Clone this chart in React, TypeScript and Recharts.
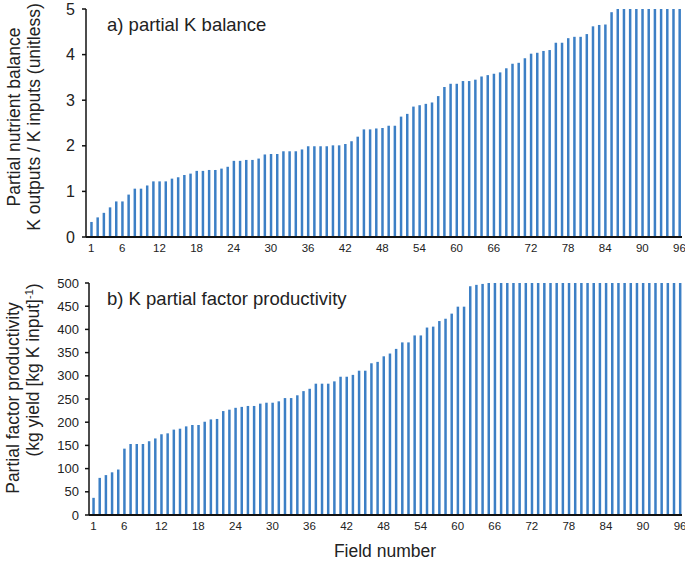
import { BarChart, Bar, XAxis, YAxis } from 'recharts'

// partial K balance (K outputs / K inputs), fields sorted ascending
const kBalance = [
  0.33, 0.43, 0.53, 0.65, 0.78, 0.78, 0.93, 1.06, 1.06, 1.13, 1.22, 1.22,
  1.22, 1.28, 1.31, 1.36, 1.39, 1.45, 1.45, 1.47, 1.47, 1.5, 1.54, 1.67,
  1.67, 1.69, 1.69, 1.72, 1.81, 1.82, 1.82, 1.88, 1.88, 1.88, 1.92, 1.99,
  1.99, 1.99, 1.99, 2.01, 2.01, 2.04, 2.1, 2.2, 2.36, 2.36, 2.38, 2.39,
  2.44, 2.44, 2.64, 2.7, 2.86, 2.89, 2.92, 2.95, 3.09, 3.29, 3.36, 3.36,
  3.42, 3.42, 3.45, 3.52, 3.55, 3.58, 3.61, 3.7, 3.8, 3.82, 3.92, 4.02,
  4.04, 4.08, 4.1, 4.26, 4.26, 4.36, 4.39, 4.39, 4.45, 4.62, 4.65, 4.66,
  4.93, 5, 5, 5, 5, 5, 5, 5, 5, 5, 5, 5,
]

// K partial factor productivity (kg yield / kg K input)
const kPfp = [
  37, 80, 86, 92, 98, 143, 153, 153, 153, 159, 165, 174,
  176, 184, 186, 191, 194, 194, 201, 206, 207, 224, 227, 231,
  233, 235, 235, 240, 242, 242, 245, 252, 252, 258, 267, 272,
  283, 283, 283, 288, 298, 298, 302, 311, 311, 327, 330, 342,
  348, 358, 372, 372, 387, 387, 404, 406, 418, 423, 434, 449,
  449, 493, 496, 498, 500, 500, 500, 500, 500, 500, 500, 500,
  500, 500, 500, 500, 500, 500, 500, 500, 500, 500, 500, 500,
  500, 500, 500, 500, 500, 500, 500, 500, 500, 500, 500, 500,
]

const xTicks = [1, 6, 12, 18, 24, 30, 36, 42, 48, 54, 60, 66, 72, 78, 84, 90, 96]
const balanceTicks = [0, 1, 2, 3, 4, 5]
const pfpTicks = [0, 50, 100, 150, 200, 250, 300, 350, 400, 450, 500]

const FONT = '"Liberation Sans", Arial, sans-serif'
const BAR = '#3c7fc5'

const balanceRows = kBalance.map((v, i) => ({ field: i + 1, value: v }))
const pfpRows = kPfp.map((v, i) => ({ field: i + 1, value: v }))

export default function App() {
  return (
    <div
      style={{
        position: 'absolute',
        left: 0,
        top: 0,
        width: 685,
        height: 564,
        background: '#fff',
        fontFamily: FONT,
      }}
    >
      {/* panel a */}
      <div style={{ position: 'absolute', left: 0, top: 0 }}>
        <BarChart width={685} height={260} data={balanceRows} margin={{ top: 9, right: 3, left: 0, bottom: 0 }}>
          <XAxis
            dataKey="field"
            type="number"
            domain={[0.14, 96.4]}
            ticks={xTicks}
            interval={0}
            height={23}
            tickLine={false}
            tickSize={0}
            tickMargin={7}
            axisLine={{ stroke: '#111', strokeWidth: 2 }}
            tick={{ fontSize: 11.5, fill: '#222', fontFamily: FONT }}
          />
          <YAxis
            domain={[0, 5]}
            ticks={balanceTicks}
            interval={0}
            width={86}
            tickSize={4}
            tickMargin={7}
            axisLine={{ stroke: '#111', strokeWidth: 1.5 }}
            tickLine={{ stroke: '#111', strokeWidth: 1.5 }}
            tick={{ fontSize: 16, fill: '#222', fontFamily: FONT }}
          />
          <Bar dataKey="value" fill={BAR} barSize={2.5} isAnimationActive={false} />
        </BarChart>
      </div>

      {/* panel b */}
      <div style={{ position: 'absolute', left: 0, top: 270 }}>
        <BarChart width={685} height={270} data={pfpRows} margin={{ top: 13, right: 3, left: 0, bottom: 0 }}>
          <XAxis
            dataKey="field"
            type="number"
            domain={[0.29, 96.32]}
            ticks={xTicks}
            interval={0}
            height={25}
            tickLine={false}
            tickSize={0}
            tickMargin={7}
            axisLine={{ stroke: '#111', strokeWidth: 2 }}
            tick={{ fontSize: 11.5, fill: '#222', fontFamily: FONT }}
          />
          <YAxis
            domain={[0, 500]}
            ticks={pfpTicks}
            interval={0}
            width={89}
            tickSize={4}
            tickMargin={6}
            axisLine={{ stroke: '#111', strokeWidth: 1.5 }}
            tickLine={{ stroke: '#111', strokeWidth: 1.5 }}
            tick={{ fontSize: 13, fill: '#222', fontFamily: FONT }}
          />
          <Bar dataKey="value" fill={BAR} barSize={2.5} isAnimationActive={false} />
        </BarChart>
      </div>

      {/* titles and axis labels */}
      <svg
        width={685}
        height={564}
        style={{ position: 'absolute', left: 0, top: 0, pointerEvents: 'none' }}
        fontFamily={FONT}
        fill="#222"
      >
        <text x={107} y={31} fontSize={18.5}>a) partial K balance</text>
        <text x={107} y={305} fontSize={18.5}>b) K partial factor productivity</text>

        <text x={20} y={117} fontSize={17.5} textAnchor="middle" transform="rotate(-90 20 117)">
          Partial nutrient balance
        </text>
        <text x={40} y={117} fontSize={17.5} textAnchor="middle" transform="rotate(-90 40 117)">
          K outputs / K inputs (unitless)
        </text>

        <text x={19} y={398} fontSize={17.5} textAnchor="middle" transform="rotate(-90 19 398)">
          Partial factor productivity
        </text>
        <text x={39} y={370} fontSize={17.5} textAnchor="middle" transform="rotate(-90 39 370)">
          (kg yield [kg K input]
          <tspan dy={-6} fontSize={11}>-1</tspan>
          <tspan dy={6}>)</tspan>
        </text>

        <text x={385} y={557} fontSize={17.5} textAnchor="middle">Field number</text>
      </svg>
    </div>
  )
}
